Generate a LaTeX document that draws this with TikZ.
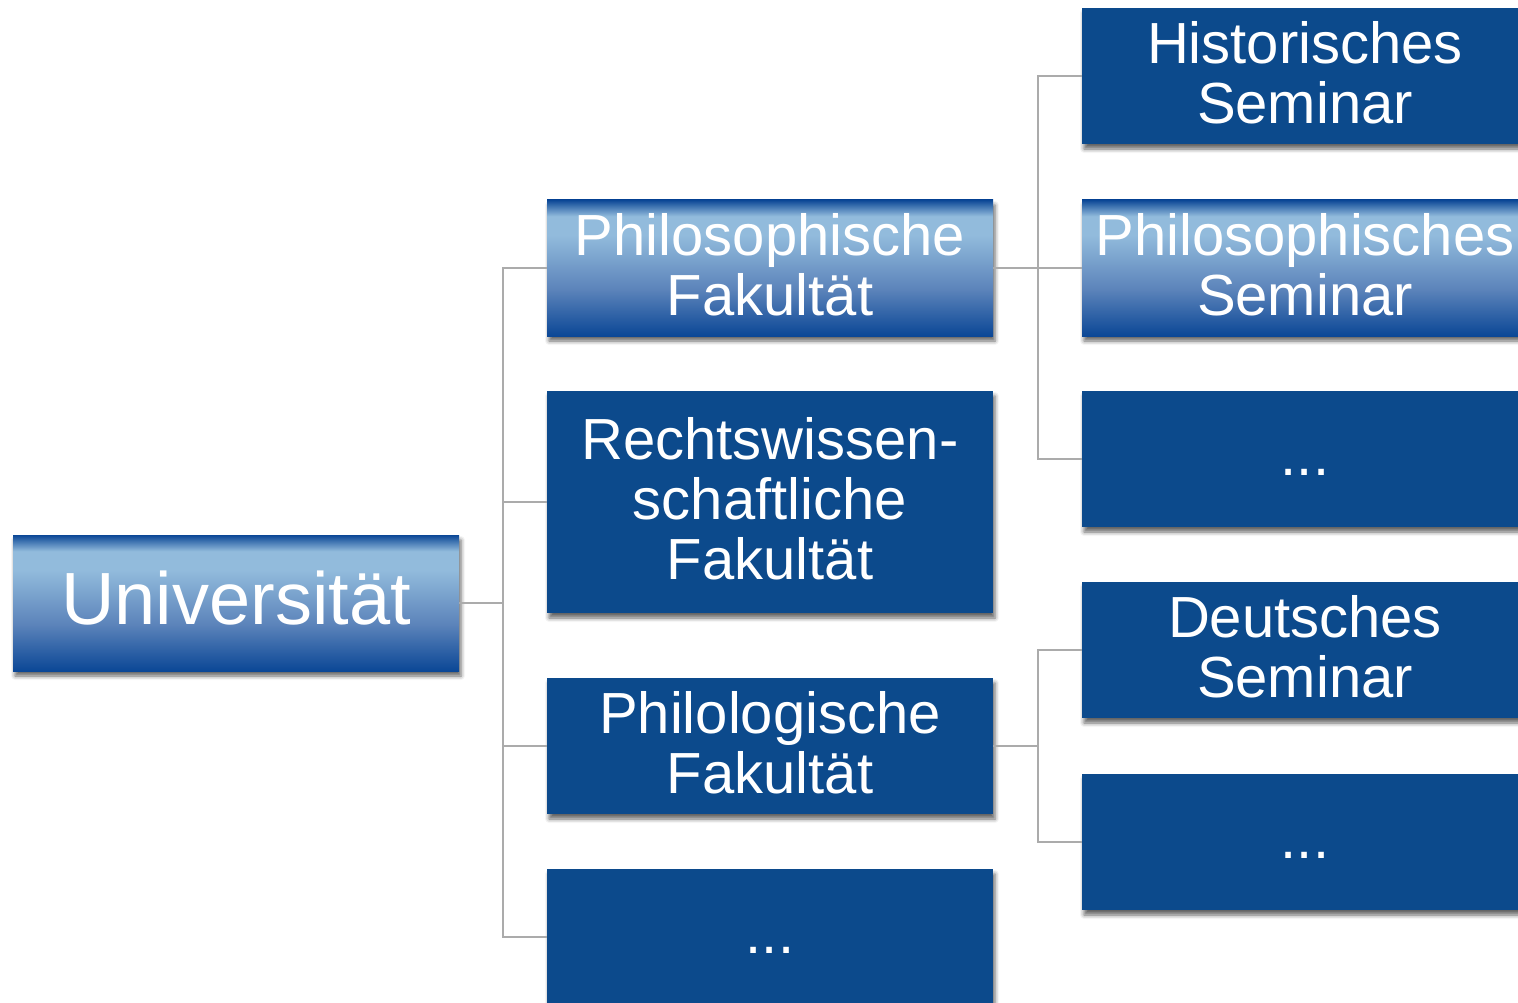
\documentclass[tikz,border=0pt]{standalone}
\usepackage{fontspec}
\setmainfont{Liberation Sans}
\usetikzlibrary{shadows.blur}

\definecolor{boxblue}{HTML}{0C4A8C}
\definecolor{shadedark}{HTML}{0B4796}
\definecolor{shademid}{HTML}{5B83BA}
\definecolor{shadelight}{HTML}{92BBDC}
\definecolor{linkgray}{HTML}{ABABAB}

\pgfdeclareverticalshading{boxshade}{100bp}{color(0bp)=(shadedark); color(25bp)=(shadedark); color(42bp)=(shademid); color(62bp)=(shadelight); color(69bp)=(shadelight); color(75bp)=(shadedark); color(100bp)=(shadedark)}

% a little depth under the last line, so the text sits as in the slide
\newcommand{\lowdepth}{\rule[-7pt]{0pt}{7pt}}

\tikzset{
	unit/.style={rectangle, fill=boxblue, text=white, inner sep=0pt,
		minimum width=446pt, minimum height=136pt, align=center,
		font=\fontsize{58pt}{60pt}\selectfont,
		blur shadow={shadow xshift=2pt, shadow yshift=-5pt, shadow blur radius=4pt, shadow opacity=60}},
	shadedunit/.style={unit, shading=boxshade},
	link/.style={draw=linkgray, line width=2.5pt},
}

\begin{document}
\begin{tikzpicture}[x=1pt, y=-1pt]
	\useasboundingbox (0,0) rectangle (1518,1003);
	\clip (0,0) rectangle (1518,1003);

	\node[shadedunit, font=\fontsize{74pt}{80pt}\selectfont] (uni) at (236,603) {Universität\rule[-10pt]{0pt}{10pt}};

	\node[shadedunit] (philfak) at (770,268) {Philosophische\\Fakultät\lowdepth};
	\node[unit, minimum height=222pt] (rechtfak) at (770,502) {Rechtswissen-\\schaftliche\\Fakultät\lowdepth};
	\node[unit] (philofak) at (770,746) {Philologische\\Fakultät\lowdepth};
	\node[unit] (morefak) at (770,937) {\vphantom{A}...\lowdepth};

	\node[unit] (histsem) at (1305,76) {Historisches\\Seminar\lowdepth};
	\node[shadedunit] (philsem) at (1305,268) {Philosophisches\\Seminar\lowdepth};
	\node[unit] (morephilsem) at (1305,459) {\vphantom{A}...\lowdepth};
	\node[unit] (deutsem) at (1305,650) {Deutsches\\Seminar\lowdepth};
	\node[unit] (morephilosem) at (1305,842) {\vphantom{A}...\lowdepth};

	\foreach \child in {philfak,rechtfak,philofak,morefak}
		\draw[link] (uni.east) -- ++(44,0) |- (\child.west);
	\foreach \child in {histsem,philsem,morephilsem}
		\draw[link] (philfak.east) -- ++(45,0) |- (\child.west);
	\foreach \child in {deutsem,morephilosem}
		\draw[link] (philofak.east) -- ++(45,0) |- (\child.west);
\end{tikzpicture}
\end{document}
